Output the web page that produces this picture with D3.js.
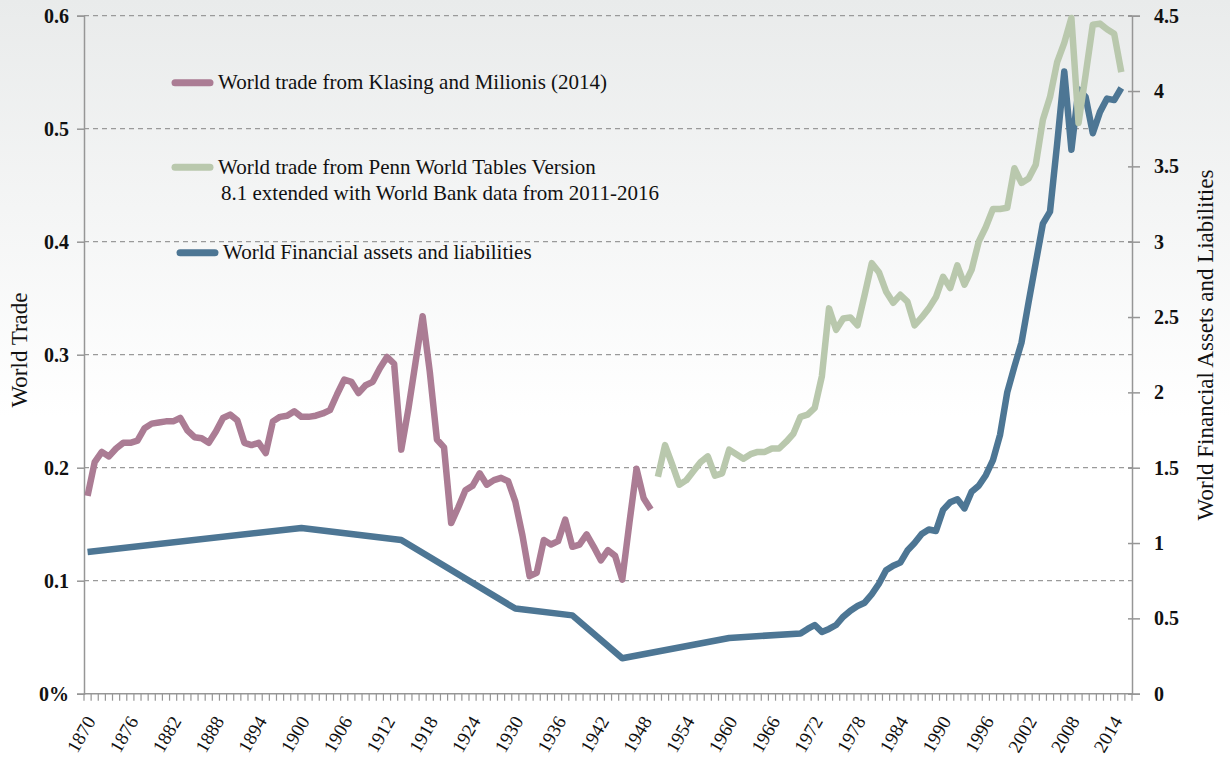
<!DOCTYPE html>
<html><head><meta charset="utf-8">
<script src="https://cdnjs.cloudflare.com/ajax/libs/d3/7.8.5/d3.min.js"></script>
<style>
html,body{margin:0;padding:0;background:#fff;}
svg{display:block;font-family:"Liberation Serif","Times New Roman",serif;}
</style></head>
<body>
<svg id="chart" width="1230" height="758"></svg>
<script>
// ---- data ----
const axisYears = d3.range(1870, 2017);           // category axis 1870..2016
const labelYears = d3.range(1870, 2015, 6);        // 1870, 1876, ... 2014

const klasingStart = 1870;
const klasingTrade = [
 0.175,0.205,0.214,0.210,0.217,0.222,0.222,0.224,0.235,0.239,
 0.240,0.241,0.241,0.244,0.233,0.227,0.226,0.222,0.232,0.244,
 0.247,0.242,0.222,0.220,0.222,0.213,0.241,0.245,0.246,0.250,
 0.245,0.245,0.246,0.248,0.251,0.265,0.278,0.276,0.266,0.273,
 0.276,0.288,0.298,0.292,0.216,0.252,0.293,0.334,0.285,0.225,
 0.218,0.151,0.165,0.180,0.184,0.195,0.185,0.189,0.191,0.188,
 0.170,0.140,0.104,0.107,0.136,0.132,0.135,0.154,0.130,0.132,
 0.141,0.130,0.118,0.127,0.122,0.101,0.151,0.199,0.173,0.163
];

const pennStart = 1950;
const pennTrade = [
 0.192,0.220,0.203,0.185,0.189,0.197,0.205,0.210,0.193,0.195,
 0.216,0.212,0.208,0.212,0.214,0.214,0.217,0.217,0.223,0.230,
 0.245,0.247,0.253,0.281,0.341,0.322,0.332,0.333,0.326,0.353,
 0.381,0.373,0.356,0.346,0.353,0.347,0.326,0.333,0.341,0.351,
 0.369,0.359,0.379,0.362,0.375,0.400,0.413,0.429,0.429,0.430,
 0.465,0.452,0.456,0.468,0.508,0.528,0.559,0.576,0.598,0.505,
 0.548,0.592,0.593,0.588,0.584,0.550
];

const financeYears = [1870,1900,1914,1930,1938,1945,1960,1970,
 1971,1972,1973,1974,1975,1976,1977,1978,1979,1980,1981,1982,1983,1984,1985,
 1986,1987,1988,1989,1990,1991,1992,1993,1994,1995,1996,1997,1998,1999,2000,
 2001,2002,2003,2004,2005,2006,2007,2008,2009,2010,2011,2012,2013,2014,2015];
const financeValues = [0.94,1.10,1.02,0.565,0.52,0.235,0.37,0.40,
 0.43,0.456,0.41,0.43,0.456,0.511,0.551,0.582,0.604,0.66,0.73,0.82,0.85,0.87,0.95,
 1.00,1.06,1.09,1.08,1.22,1.27,1.29,1.23,1.34,1.38,1.45,1.55,1.72,2.00,2.17,
 2.33,2.60,2.86,3.12,3.20,3.65,4.13,3.61,4.01,3.96,3.72,3.86,3.95,3.94,4.02];

const leftTicks = [0,0.1,0.2,0.3,0.4,0.5,0.6];
const rightTicks = [0,0.5,1,1.5,2,2.5,3,3.5,4,4.5];

const seriesNames = [
 ["World trade from Klasing and Milionis (2014)"],
 ["World trade from Penn World Tables Version","8.1 extended with World Bank data from 2011-2016"],
 ["World Financial assets and liabilities"]
];
const colors = ["#ab7c94","#b9c8ad","#4d7694"];

// ---- layout ----
const svg = d3.select("#chart");
const L = 84, R = 1132, T = 15.7, B = 693.7;

const defs = svg.append("defs");
const grad = defs.append("linearGradient").attr("id","bg").attr("x1",0).attr("y1",0).attr("x2",0).attr("y2",1);
grad.append("stop").attr("offset","0%").attr("stop-color","#e9ebeb");
grad.append("stop").attr("offset","55%").attr("stop-color","#ffffff");
grad.append("stop").attr("offset","100%").attr("stop-color","#ffffff");
svg.append("rect").attr("width",1230).attr("height",758).attr("fill","url(#bg)");

const x = d3.scaleBand().domain(axisYears).range([L, R]).padding(0);
const xc = yr => x(yr) + x.bandwidth()/2;
const yL = d3.scaleLinear().domain([0,0.6]).range([B,T]);
const yR = d3.scaleLinear().domain([0,4.5]).range([B,T]);

// gridlines
svg.append("g").selectAll("line").data(leftTicks.filter(d=>d>0)).join("line")
 .attr("x1",L).attr("x2",R).attr("y1",d=>yL(d)).attr("y2",d=>yL(d))
 .attr("stroke","#9a9a9a").attr("stroke-width",1.3).attr("stroke-dasharray","5,4");

// left axis
const gL = svg.append("g").attr("transform",`translate(${L},0)`)
 .call(d3.axisLeft(yL).tickValues(leftTicks).tickSize(7).tickPadding(8)
   .tickFormat(d => d===0 ? "0%" : d3.format(".1f")(d)));
gL.select(".domain").attr("stroke","#969696").attr("stroke-width",1.5);
gL.selectAll(".tick line").attr("stroke","#969696").attr("stroke-width",1.5);
gL.selectAll(".tick text").attr("font-family","Liberation Serif").attr("font-size",20).attr("font-weight","bold").attr("fill","#111");

// right axis
const gR = svg.append("g").attr("transform",`translate(${R},0)`)
 .call(d3.axisRight(yR).tickValues(rightTicks).tickSize(8).tickPadding(14)
   .tickFormat(d => d3.format("")(d)));
gR.select(".domain").attr("stroke","#969696").attr("stroke-width",1.5);
gR.selectAll(".tick line").attr("stroke","#969696").attr("stroke-width",1.5).attr("x1",-4);
gR.selectAll(".tick text").attr("font-family","Liberation Serif").attr("font-size",20).attr("font-weight","bold").attr("fill","#111");

// bottom axis
const edges = axisYears.map(d=>x(d)).concat([R]);
svg.append("line").attr("x1",L).attr("x2",R).attr("y1",B).attr("y2",B).attr("stroke","#969696").attr("stroke-width",1.5);
svg.append("g").selectAll("line").data(edges).join("line")
 .attr("x1",d=>d).attr("x2",d=>d).attr("y1",B).attr("y2",B+7)
 .attr("stroke","#969696").attr("stroke-width",1.2);
svg.append("g").selectAll("text").data(labelYears).join("text")
 .attr("transform",d=>`translate(${xc(d)+3},${B+24}) rotate(-60)`)
 .attr("text-anchor","end").attr("dy","0.35em")
 .attr("font-size",19).attr("fill","#111").text(d=>d);

// axis titles
svg.append("text").attr("transform","translate(27,350) rotate(-90)").attr("text-anchor","middle")
 .attr("font-size",23).attr("fill","#111").text("World Trade");
svg.append("text").attr("transform","translate(1213,345) rotate(-90)").attr("text-anchor","middle")
 .attr("font-size",23).attr("fill","#111").text("World Financial Assets and Liabilities");

// lines
const lineL = d3.line().x(d=>xc(d[0])).y(d=>yL(d[1])).curve(d3.curveLinear);
const lineR = d3.line().x(d=>xc(d[0])).y(d=>yR(d[1])).curve(d3.curveLinear);
const kData = klasingTrade.map((v,i)=>[klasingStart+i,v]);
const pData = pennTrade.map((v,i)=>[pennStart+i,v]);
const fData = financeYears.map((yr,i)=>[yr,financeValues[i]]);

svg.append("path").datum(fData).attr("d",lineR).attr("fill","none")
 .attr("stroke",colors[2]).attr("stroke-width",6.5).attr("stroke-linejoin","round");
svg.append("path").datum(kData).attr("d",lineL).attr("fill","none")
 .attr("stroke",colors[0]).attr("stroke-width",6.5).attr("stroke-linejoin","round");
svg.append("path").datum(pData).attr("d",lineL).attr("fill","none")
 .attr("stroke",colors[1]).attr("stroke-width",6.5).attr("stroke-linejoin","round");

// legend
const legendPos = [{lx:172,ly:82.7,tx:218,ty:89},{lx:172,ly:167.3,tx:218,ty:174},{lx:177,ly:252.7,tx:223,ty:259}];
legendPos.forEach((p,i)=>{
  svg.append("line").attr("x1",p.lx+3).attr("x2",p.lx+38).attr("y1",p.ly).attr("y2",p.ly)
   .attr("stroke",colors[i]).attr("stroke-width",7).attr("stroke-linecap","round");
  const t = svg.append("text").attr("x",p.tx).attr("y",p.ty).attr("font-size",21).attr("fill","#111");
  seriesNames[i].forEach((s,j)=>{
    t.append("tspan").attr("x", j===0 ? p.tx : p.tx+3).attr("dy", j===0 ? 0 : 26).text(s);
  });
});
</script>
</body></html>
